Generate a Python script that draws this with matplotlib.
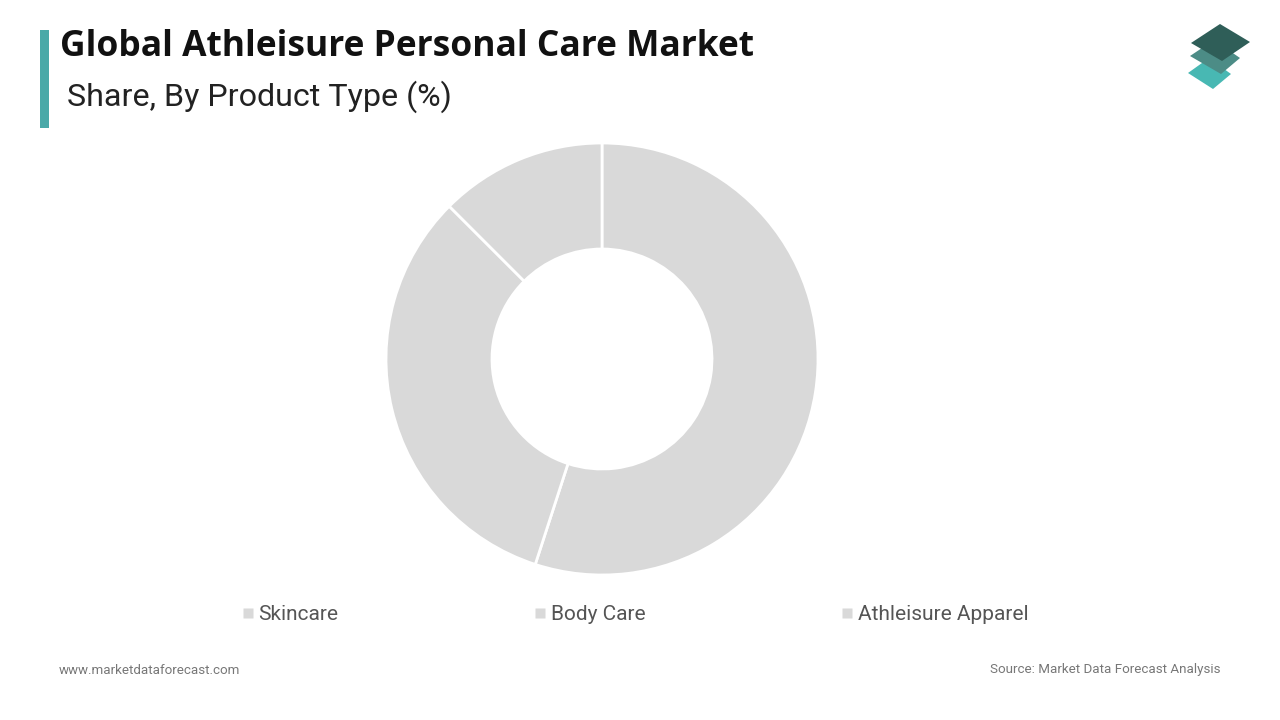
import matplotlib
matplotlib.use("Agg")
import matplotlib.pyplot as plt
from matplotlib.patches import Polygon, Rectangle
from matplotlib.lines import Line2D

categories = ["Skincare", "Body Care", "Athleisure Apparel"]
shares = [55.0, 32.5, 12.5]
slice_color = "#d9d9d9"

title = "Global Athleisure Personal Care Market"
subtitle = "Share, By Product Type (%)"
footer_left = "www.marketdataforecast.com"
footer_right = "Source: Market Data Forecast Analysis"

W, H = 1280, 720
fig = plt.figure(figsize=(W / 100, H / 100), dpi=100)
fig.patch.set_facecolor("white")

def fx(px):
    return px / W

def fy(py):
    return 1 - py / H

# donut
cx, cy, R = 602, 359, 216
pad = 1.1
size = 2 * R * pad
ax = fig.add_axes([fx(cx - size / 2), fy(cy + size / 2), size / W, size / H])
ax.pie(shares, colors=[slice_color] * len(shares), startangle=90, counterclock=False,
       radius=1.0, wedgeprops=dict(width=1 - 110 / 216, edgecolor="white", linewidth=2))
ax.set_xlim(-pad, pad)
ax.set_ylim(-pad, pad)
ax.set_aspect("equal")
ax.axis("off")

# accent bar
fig.patches.append(Rectangle((fx(40), fy(128)), fx(9), 98 / H, transform=fig.transFigure,
                             facecolor="#4aa9a8", edgecolor="none"))

fig.text(fx(60), fy(47), title, fontsize=25.5, fontweight="bold", family="Open Sans",
         color="#111111", va="center", ha="left")
fig.text(fx(67), fy(97), subtitle, fontsize=23.2, family="Roboto", color="#222222",
         va="center", ha="left")

# logo
def poly(pts, color):
    fig.patches.append(Polygon([(fx(x), fy(y)) for x, y in pts], closed=True,
                               transform=fig.transFigure, facecolor=color, edgecolor="none",
                               joinstyle="round"))

poly([(1188, 73), (1209, 58), (1231, 74), (1213, 89)], "#48b8b3")
poly([(1190, 56), (1214, 40), (1240, 58), (1221, 74)], "#4c8c86")
poly([(1191, 43), (1220, 24), (1250, 42), (1222, 61)], "#2f5e58")

# legend
handles = [Line2D([0], [0], marker="s", linestyle="none", markersize=7,
                  markerfacecolor=slice_color, markeredgecolor="none") for _ in categories]
leg = fig.legend(handles, categories, loc="center", bbox_to_anchor=(fx(633), fy(615)),
                 ncol=3, frameon=False, columnspacing=9.2, handletextpad=0.0,
                 handlelength=1.0, prop=dict(family="Roboto", size=15))
for t in leg.get_texts():
    t.set_color("#555555")

fig.text(fx(59), fy(670), footer_left, fontsize=9.6, family="Roboto", color="#777777",
         va="center", ha="left")
fig.text(fx(1220), fy(670), footer_right, fontsize=9.6, family="Roboto", color="#777777",
         va="center", ha="right")

fig.savefig("out.png", dpi=100, facecolor="white")
